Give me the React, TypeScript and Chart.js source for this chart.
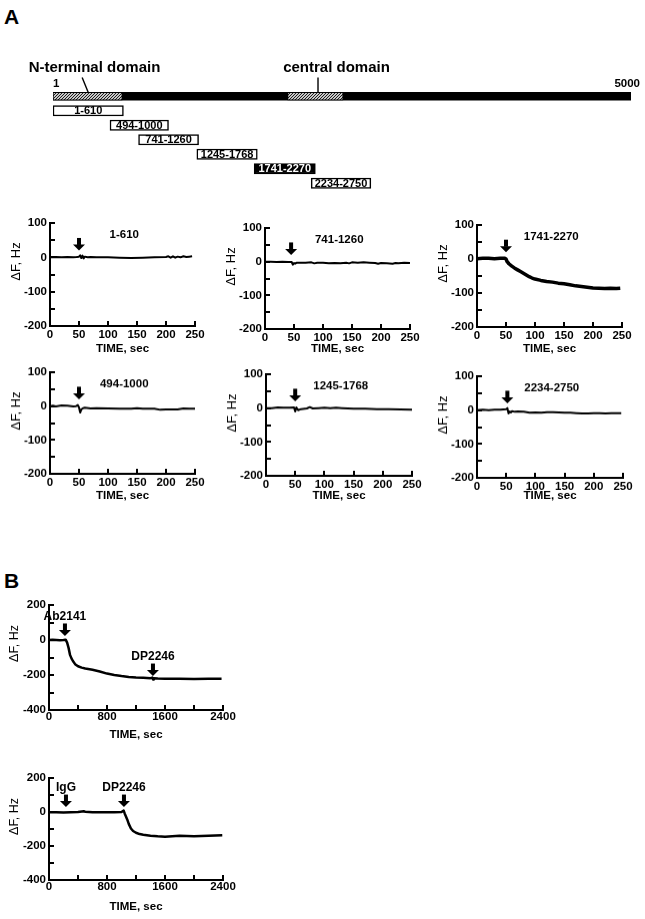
import React, { useEffect, useRef } from 'react';
import { Chart, registerables } from 'chart.js';

Chart.register(...registerables);

const FONT = "'Liberation Sans', Arial, Helvetica, sans-serif";

// ---------------- Panel A: domain map ----------------
const proteinLength = 5000;
const domainNames = ['N-terminal domain', 'central domain'];
const domainStart = [1, 2030];
const domainEnd = [600, 2510];
const domainLabelAt = [360, 2453];
const domainPointerAt = [305, 2293];
const fragmentStart = [1, 494, 741, 1245, 1741, 2234];
const fragmentEnd = [610, 1000, 1260, 1768, 2270, 2750];
const activeFragment = 4;
const fragmentLabels = fragmentStart.map((s, i) => `${s}-${fragmentEnd[i]}`);

// ---------------- Panel A: binding traces (ΔF, Hz vs time, s) ----------------
const f1_610Time = [0, 10, 20, 30, 40, 46, 50, 52, 54, 56, 58, 60, 65, 70, 80, 100, 120, 140, 160, 180, 200, 204, 208, 212, 216, 220, 225, 230, 235, 240, 245];
const f1_610Delta = [0, 1, 0, 1, 0, 1, 2, 6, -2, 5, -3, 2, 0, 1, 0, 0, -1, -2, -1, 0, 1, 3, -1, 3, -1, 2, 0, 3, 1, 2, 3];

const f741Time = [0, 10, 20, 30, 40, 46, 48, 50, 52, 55, 60, 70, 80, 85, 90, 100, 110, 120, 130, 140, 145, 150, 160, 170, 180, 190, 195, 200, 210, 220, 225, 230, 240, 250];
const f741Delta = [0, 0, -1, 0, -1, -1, -9, -4, -6, -3, -3, -3, -2, -5, -3, -3, -5, -4, -5, -3, -5, -2, -3, -2, -3, -4, -6, -4, -5, -6, -4, -5, -3, -4];

const f1741Time = [0, 10, 20, 30, 40, 48, 50, 52, 55, 60, 65, 70, 75, 80, 85, 90, 95, 100, 110, 120, 130, 140, 150, 160, 170, 180, 190, 200, 210, 220, 230, 240, 247];
const f1741Delta = [1, 2, 2, 1, 2, 2, 0, -8, -14, -21, -27, -32, -37, -42, -47, -52, -56, -59, -63, -66, -68, -71, -73, -76, -79, -81, -83, -85, -86, -87, -86, -87, -86];

const f494Time = [0, 5, 10, 20, 30, 40, 45, 48, 50, 52, 54, 57, 60, 70, 80, 100, 120, 140, 150, 160, 180, 190, 200, 220, 230, 240, 250];
const f494Delta = [0, 1, -1, 2, 1, -1, 0, 3, -4, -19, -10, -6, -5, -7, -6, -7, -8, -8, -6, -8, -8, -11, -10, -10, -7, -8, -8];

const f1245Time = [0, 10, 20, 30, 40, 48, 50, 52, 55, 60, 70, 75, 80, 90, 100, 110, 120, 130, 140, 150, 170, 190, 210, 230, 250];
const f1245Delta = [0, 0, 2, 1, 1, 2, -10, 2, -6, -3, -1, 3, -1, 0, 1, 0, 1, 0, -1, -2, -2, -3, -3, -4, -5];

const f2234Time = [0, 10, 20, 30, 40, 50, 52, 54, 56, 58, 60, 65, 70, 80, 90, 100, 110, 120, 130, 140, 150, 160, 170, 180, 190, 200, 210, 220, 230, 240, 247];
const f2234Delta = [0, 1, 0, 1, 1, 3, 6, -10, -4, -7, -3, -5, -4, -5, -8, -7, -8, -6, -6, -7, -8, -8, -9, -10, -10, -9, -9, -10, -9, -9, -9];

const arrowTimeA = [50, 45, 50, 50, 50, 52];
const arrowTipA = [20, 20, 20, 20, 20, 20];
const nameTimeA = 128;
const nameDeltaA = 65;

// ---------------- Panel B traces ----------------
const abTime = [0, 50, 100, 150, 200, 230, 250, 270, 290, 310, 330, 360, 400, 450, 500, 600, 700, 800, 900, 1000, 1100, 1200, 1300, 1400, 1425, 1435, 1445, 1500, 1600, 1800, 2000, 2200, 2380];
const abDelta = [0, 2, 0, -2, 0, 2, -15, -45, -85, -105, -120, -138, -150, -158, -163, -170, -180, -192, -200, -206, -211, -214, -216, -218, -215, -226, -218, -220, -222, -221, -223, -222, -222];
const abArrowTime = [220, 1434];
const abArrowTip = [23, -206];
const abArrowLabel = ['Ab2141', 'DP2246'];

const igTime = [0, 100, 200, 300, 400, 480, 500, 600, 700, 800, 900, 1000, 1030, 1045, 1060, 1080, 1100, 1130, 1160, 1200, 1250, 1300, 1400, 1500, 1600, 1800, 2000, 2200, 2390];
const igDelta = [-2, -2, -3, -1, 0, 4, 2, -2, -2, -2, -1, 0, 8, -10, -25, -45, -70, -97, -112, -122, -130, -134, -140, -143, -145, -140, -142, -140, -137];
const igArrowTime = [234, 1034];
const igArrowTip = [29, 29];
const igArrowLabel = ['IgG', 'DP2246'];

// ---------------- layout ----------------
type Rect = { l: number; t: number; r: number; b: number };
type Arrow = { x: number; tip: number; label?: string };
type TraceSpec = {
  plot: Rect;
  titleY: number;
  xMax: number; xStep: number; xLabelStep: number;
  yMin: number; yMax: number; yStep: number; yLabelStep: number;
  time: number[]; delta: number[]; lineWidth: number;
  arrows: Arrow[];
  name?: { text: string; x: number; y: number };
  tickPad: number;
  yTitleSize: number;
};

const plotsA: Rect[] = [
  { l: 50, t: 223, r: 195, b: 326 },
  { l: 265, t: 228, r: 410, b: 329 },
  { l: 477, t: 225, r: 622, b: 327 },
  { l: 50, t: 372, r: 195, b: 473 },
  { l: 266, t: 374, r: 412, b: 475 },
  { l: 477, t: 376, r: 623, b: 477 },
];
const titleYA = [349, 349, 349, 494.5, 494.5, 494.5];
const seriesA = [
  { name: fragmentLabels[0], time: f1_610Time, delta: f1_610Delta, lw: 2 },
  { name: fragmentLabels[2], time: f741Time, delta: f741Delta, lw: 2 },
  { name: fragmentLabels[4], time: f1741Time, delta: f1741Delta, lw: 3.5 },
  { name: fragmentLabels[1], time: f494Time, delta: f494Delta, lw: 2 },
  { name: fragmentLabels[3], time: f1245Time, delta: f1245Delta, lw: 2 },
  { name: fragmentLabels[5], time: f2234Time, delta: f2234Delta, lw: 2 },
];

const specsA: TraceSpec[] = seriesA.map((s, i) => ({
  plot: plotsA[i],
  titleY: titleYA[i],
  xMax: 250, xStep: 50, xLabelStep: 50,
  yMin: -200, yMax: 100, yStep: 50, yLabelStep: 100,
  time: s.time, delta: s.delta, lineWidth: s.lw,
  arrows: [{ x: arrowTimeA[i], tip: arrowTipA[i] }],
  name: { text: s.name, x: nameTimeA, y: nameDeltaA },
  tickPad: 2,
  yTitleSize: 13,
}));

const specsB: TraceSpec[] = [
  {
    plot: { l: 49, t: 605, r: 223, b: 710 }, titleY: 735,
    xMax: 2400, xStep: 400, xLabelStep: 800,
    yMin: -400, yMax: 200, yStep: 100, yLabelStep: 200,
    time: abTime, delta: abDelta, lineWidth: 2.5,
    arrows: abArrowTime.map((x, i) => ({ x, tip: abArrowTip[i], label: abArrowLabel[i] })),
    tickPad: 0, yTitleSize: 12.5,
  },
  {
    plot: { l: 49, t: 778, r: 223, b: 880 }, titleY: 907,
    xMax: 2400, xStep: 400, xLabelStep: 800,
    yMin: -400, yMax: 200, yStep: 100, yLabelStep: 200,
    time: igTime, delta: igDelta, lineWidth: 2.5,
    arrows: igArrowTime.map((x, i) => ({ x, tip: igArrowTip[i], label: igArrowLabel[i] })),
    tickPad: 0, yTitleSize: 12.5,
  },
];

function canvasRect(s: TraceSpec): Rect {
  return { l: s.plot.l - 50, t: s.plot.t - 30, r: s.plot.r + 20, b: s.titleY + 10 };
}

function traceDecor(s: TraceSpec) {
  return {
    id: 'traceDecor',
    afterDatasetsDraw(chart: any) {
      const { ctx, chartArea: a } = chart;
      const x = chart.scales.x;
      const y = chart.scales.y;
      ctx.save();
      ctx.strokeStyle = '#000';
      ctx.lineWidth = 2;
      ctx.beginPath();
      for (const t of y.ticks) {
        const py = Math.round(y.getPixelForValue(t.value));
        ctx.moveTo(a.left, py);
        ctx.lineTo(a.left + 5, py);
      }
      for (const t of x.ticks) {
        const px = Math.round(x.getPixelForValue(t.value));
        ctx.moveTo(px, a.bottom);
        ctx.lineTo(px, a.bottom - 5);
      }
      ctx.stroke();

      ctx.fillStyle = '#000';
      ctx.textAlign = 'center';
      ctx.textBaseline = 'middle';
      ctx.font = `bold 12px ${FONT}`;
      for (const ar of s.arrows) {
        const px = x.getPixelForValue(ar.x);
        const py = y.getPixelForValue(ar.tip);
        ctx.fillRect(px - 2, py - 12.5, 4, 7);
        ctx.beginPath();
        ctx.moveTo(px - 6, py - 6);
        ctx.lineTo(px + 6, py - 6);
        ctx.lineTo(px, py);
        ctx.closePath();
        ctx.fill();
        if (ar.label) ctx.fillText(ar.label, px, py - 12.5 - 7);
      }
      if (s.name) {
        ctx.font = `bold 11.5px ${FONT}`;
        ctx.fillText(s.name.text, x.getPixelForValue(s.name.x), y.getPixelForValue(s.name.y));
      }
      ctx.save();
      ctx.translate(a.left - 34, a.top + 38.5);
      ctx.rotate(-Math.PI / 2);
      ctx.font = `${s.yTitleSize}px ${FONT}`;
      ctx.fillText('ΔF, Hz', 0, 0);
      ctx.restore();
      ctx.restore();
    },
  };
}

function traceConfig(s: TraceSpec): any {
  const c = canvasRect(s);
  const axisW = s.plot.l - c.l;
  const axisH = c.b - s.plot.b;
  const size = 11.5;
  const lh = size * 1.2;
  const bold = { family: FONT, size, weight: 'bold' as const };
  return {
    type: 'line',
    data: {
      datasets: [
        {
          data: s.time.map((t, i) => ({ x: t, y: s.delta[i] })),
          borderColor: '#000',
          borderWidth: s.lineWidth,
          pointRadius: 0,
          tension: 0,
          fill: false,
          borderJoinStyle: 'round',
        },
      ],
    },
    options: {
      animation: false,
      responsive: true,
      maintainAspectRatio: false,
      events: [],
      layout: { padding: { left: 0, top: s.plot.t - c.t, right: c.r - s.plot.r, bottom: 0 } },
      plugins: { legend: { display: false }, tooltip: { enabled: false } },
      scales: {
        x: {
          type: 'linear',
          min: 0,
          max: s.xMax,
          grid: { display: false, drawTicks: false, tickLength: 0 },
          border: { display: true, color: '#000', width: 2 },
          ticks: {
            stepSize: s.xStep,
            autoSkip: false,
            maxRotation: 0,
            padding: s.tickPad,
            color: '#000',
            font: bold,
            callback: (v: number) => (v % s.xLabelStep === 0 ? String(v) : ''),
          },
          title: {
            display: true,
            text: 'TIME, sec',
            color: '#000',
            font: bold,
            padding: { top: 0, bottom: axisH - (s.titleY - s.plot.b) - lh / 2 },
          },
          afterFit: (sc: any) => {
            sc.height = axisH;
          },
        },
        y: {
          type: 'linear',
          min: s.yMin,
          max: s.yMax,
          grid: { display: false, drawTicks: false, tickLength: 0 },
          border: { display: true, color: '#000', width: 2 },
          ticks: {
            stepSize: s.yStep,
            autoSkip: false,
            padding: 3,
            color: '#000',
            font: bold,
            callback: (v: number) => (v % s.yLabelStep === 0 ? String(v) : ''),
          },
          afterFit: (sc: any) => {
            sc.width = axisW;
          },
        },
      },
    },
    plugins: [traceDecor(s)],
  };
}

// ---------------- domain map chart ----------------
const mapRect: Rect = { l: 0, t: 50, r: 645, b: 200 };
const pointerLean = [-6, 0];

function makeHatch(): any {
  const c = document.createElement('canvas');
  c.width = 3;
  c.height = 3;
  const g = c.getContext('2d')!;
  g.fillStyle = '#c8c8c8';
  g.fillRect(0, 0, 3, 3);
  g.strokeStyle = '#1e1e1e';
  g.lineWidth = 1;
  g.beginPath();
  g.moveTo(0, 3);
  g.lineTo(3, 0);
  g.moveTo(-1, 1);
  g.lineTo(1, -1);
  g.moveTo(2, 4);
  g.lineTo(4, 2);
  g.stroke();
  return g.createPattern(c, 'repeat');
}

const mapDecor = {
  id: 'mapDecor',
  afterDatasetsDraw(chart: any) {
    const { ctx, chartArea: a } = chart;
    const x = chart.scales.x;
    const bar = chart.getDatasetMeta(0).data[0];
    const barTop = bar.y - 4;
    ctx.save();
    // fragment labels
    const meta = chart.getDatasetMeta(chart.data.datasets.length - 1);
    ctx.font = `bold 11px ${FONT}`;
    ctx.textAlign = 'center';
    ctx.textBaseline = 'middle';
    meta.data.forEach((el: any, k: number) => {
      if (k === 0) return;
      ctx.fillStyle = k - 1 === activeFragment ? '#fff' : '#000';
      ctx.fillText(fragmentLabels[k - 1], (el.x + el.base) / 2, el.y + 0.5);
    });
    // domain names + pointers
    ctx.fillStyle = '#000';
    ctx.strokeStyle = '#000';
    ctx.font = `bold 15px ${FONT}`;
    ctx.textBaseline = 'alphabetic';
    domainNames.forEach((n, i) => {
      ctx.fillText(n, x.getPixelForValue(domainLabelAt[i]), a.top - 17);
      const px = x.getPixelForValue(domainPointerAt[i]);
      ctx.lineWidth = 1.4;
      ctx.beginPath();
      ctx.moveTo(px + pointerLean[i], a.top - 11.5);
      ctx.lineTo(px, barTop);
      ctx.stroke();
    });
    // ends
    ctx.font = `bold 11.5px ${FONT}`;
    ctx.textAlign = 'left';
    ctx.fillText('1', x.getPixelForValue(1), a.top - 2);
    ctx.textAlign = 'right';
    ctx.fillText(String(proteinLength), x.getPixelForValue(proteinLength) + 9, a.top - 2);
    ctx.restore();
  },
};

function mapConfig(): any {
  const hatch = makeHatch();
  const rows = ['protein', ...fragmentLabels];
  const only = (v: [number, number]) => rows.map((_, k) => (k === 0 ? v : null));
  return {
    type: 'bar',
    data: {
      labels: rows,
      datasets: [
        {
          label: 'protein',
          data: only([1, proteinLength]),
          backgroundColor: '#000',
          borderWidth: 0,
          barThickness: 8,
          grouped: false,
          order: 3,
        },
        ...domainNames.map((n, i) => ({
          label: n,
          data: only([domainStart[i], domainEnd[i]]),
          backgroundColor: hatch,
          borderColor: '#000',
          borderWidth: 1,
          borderSkipped: false,
          barThickness: 8,
          grouped: false,
          order: 2,
        })),
        {
          label: 'fragments',
          data: rows.map((_, k) => (k === 0 ? null : [fragmentStart[k - 1], fragmentEnd[k - 1]])),
          backgroundColor: rows.map((_, k) => (k - 1 === activeFragment ? '#000' : '#fff')),
          borderColor: '#000',
          borderWidth: 1.5,
          borderSkipped: false,
          barThickness: 10.5,
          grouped: false,
          order: 1,
        },
      ],
    },
    options: {
      indexAxis: 'y',
      animation: false,
      responsive: true,
      maintainAspectRatio: false,
      events: [],
      layout: { padding: { left: 53, right: 14, top: 39, bottom: 9.5 } },
      plugins: { legend: { display: false }, tooltip: { enabled: false } },
      scales: {
        x: { type: 'linear', min: 1, max: proteinLength, display: false },
        y: { type: 'category', display: false, offset: true },
      },
    },
    plugins: [mapDecor],
  };
}

// ---------------- components ----------------
function ChartBox({ rect, build }: { rect: Rect; build: () => any }) {
  const ref = useRef<HTMLCanvasElement | null>(null);
  useEffect(() => {
    if (!ref.current) return;
    const chart = new Chart(ref.current, build());
    return () => chart.destroy();
  }, []);
  return (
    <div
      style={{
        position: 'absolute',
        left: rect.l,
        top: rect.t,
        width: rect.r - rect.l,
        height: rect.b - rect.t,
      }}
    >
      <canvas ref={ref} />
    </div>
  );
}

export default function App() {
  const all = [...specsA, ...specsB];
  return (
    <div
      style={{
        position: 'absolute',
        left: 0,
        top: 0,
        width: 645,
        height: 919,
        background: '#fff',
        fontFamily: FONT,
        overflow: 'hidden',
      }}
    >
      <div style={{ position: 'absolute', left: 4, top: 6, fontSize: 21, lineHeight: 1, fontWeight: 'bold' }}>A</div>
      <div style={{ position: 'absolute', left: 4, top: 570, fontSize: 21, lineHeight: 1, fontWeight: 'bold' }}>B</div>
      <ChartBox rect={mapRect} build={mapConfig} />
      {all.map((s, i) => (
        <ChartBox key={i} rect={canvasRect(s)} build={() => traceConfig(s)} />
      ))}
    </div>
  );
}
